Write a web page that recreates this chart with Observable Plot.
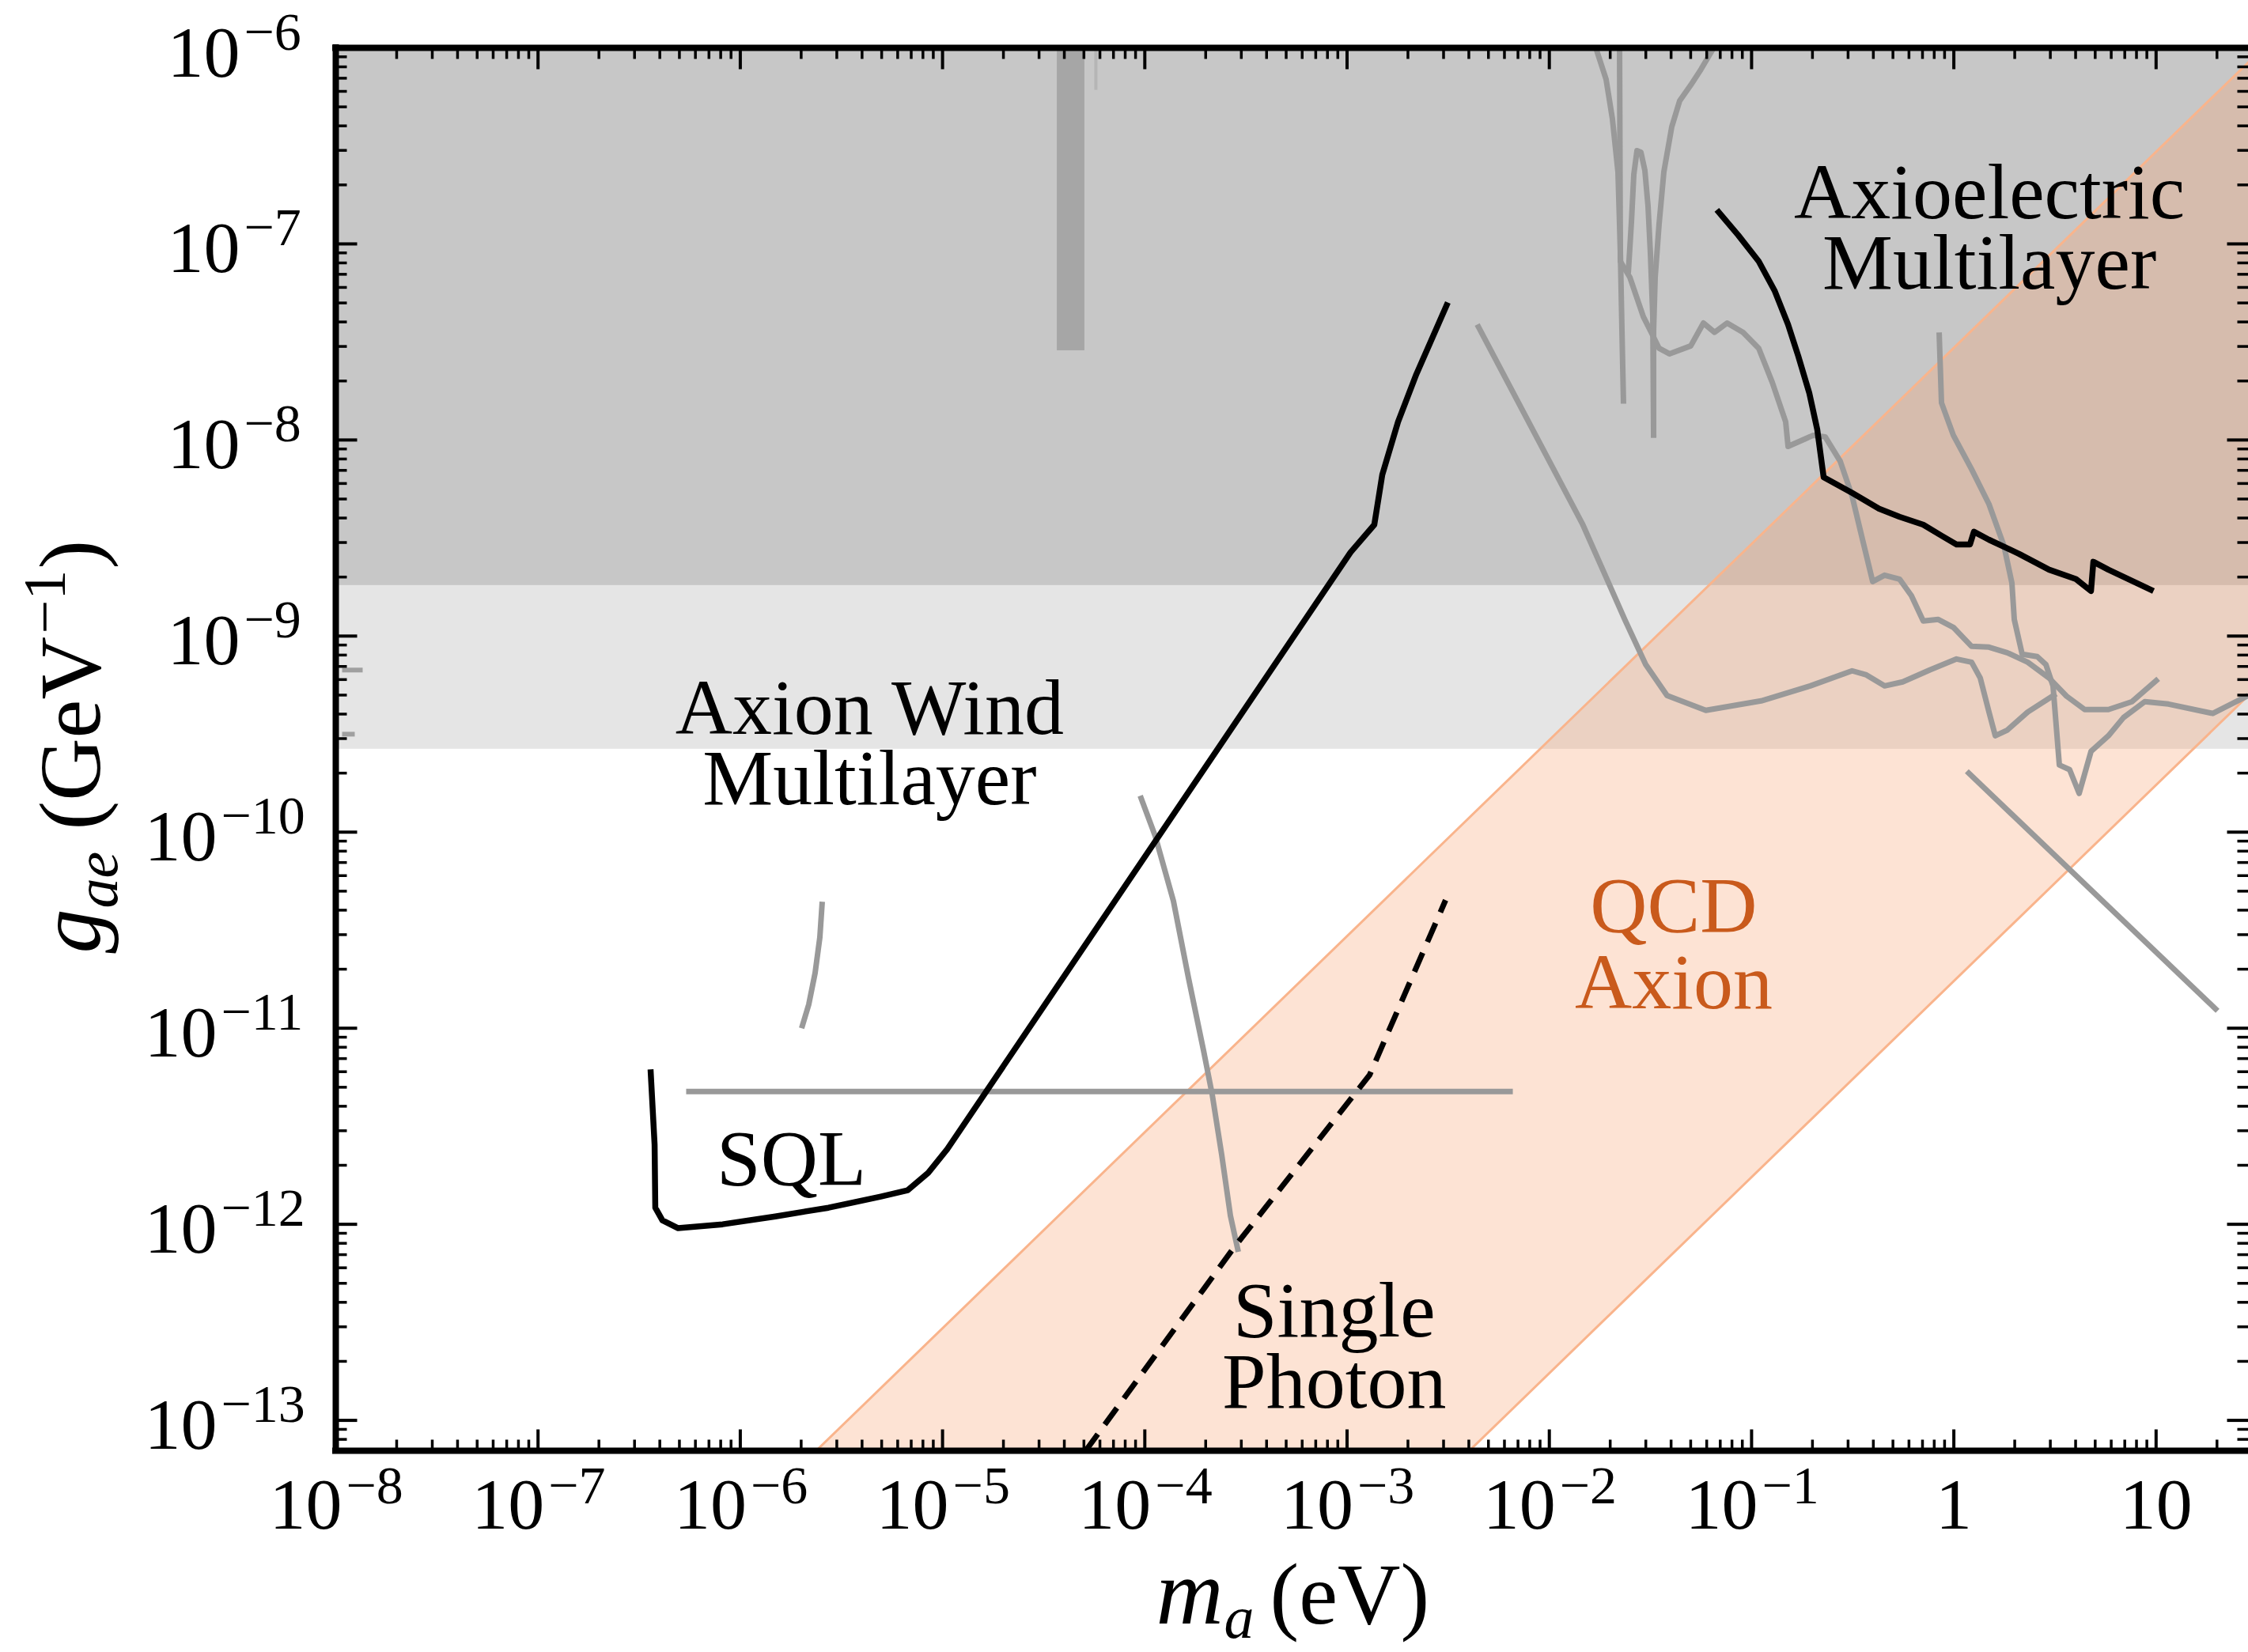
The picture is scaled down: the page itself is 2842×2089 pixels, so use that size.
<!DOCTYPE html>
<html><head><meta charset="utf-8">
<script src="https://cdn.jsdelivr.net/npm/d3@7"></script>
<script src="https://cdn.jsdelivr.net/npm/@observablehq/plot@0.6"></script>
<style>
html,body{margin:0;padding:0;background:#fff;}
#chart svg{display:block;}
</style></head><body><div id="chart"></div>
<script>
const W = 2842, H = 2089;
const mL = 424, mR = 0, mT = 60, mB = 255;
const xDomain = [1e-8, 28.6];
const yDomain = [7e-14, 1e-6];

// excluded / constraint bands (g_ae ranges)
const darkBand = [{lo: 1.81e-9, hi: 1e-6}];
const lightBand = [{lo: 2.65e-10, hi: 1.81e-9}];
const darkBar = [{m1: 3.69e-5, m2: 5.05e-5, lo: 2.855e-8, hi: 1e-6}];
const thinBar = [[5.73e-5, 1e-6], [5.73e-5, 6.11e-7]];

// QCD axion band edges (m, lower g, upper g)
const qcdBand = [
  {m: 1e-7, lo: 1.74e-18, hi: 2.95e-15},
  {m: 100, lo: 1.74e-9, hi: 2.95e-6}
];

// black projections
const axionWind = [[3.60e-7,6.17e-12],[3.77e-7,2.55e-12],[3.80e-7,1.215e-12],[4.12e-7,1.047e-12],[4.93e-7,9.55e-13],[8.18e-7,1.0e-12],[1.49e-6,1.097e-12],[2.73e-6,1.215e-12],[4.95e-6,1.384e-12],[6.72e-6,1.49e-12],[8.49e-6,1.829e-12],[1.055e-5,2.416e-12],[1.041e-3,2.675e-9],[1.364e-3,3.70e-9],[1.493e-3,6.65e-9],[1.787e-3,1.238e-8],[2.199e-3,2.16e-8],[3.15e-3,5.03e-8]];
const axioelectric = [[0.0673,1.491e-7],[0.0859,1.108e-7],[0.1085,8.15e-8],[0.1299,5.78e-8],[0.1515,3.88e-8],[0.1702,2.675e-8],[0.1931,1.729e-8],[0.2113,1.128e-8],[0.2272,6.46e-9],[0.3141,5.37e-9],[0.4266,4.46e-9],[0.539,4.06e-9],[0.706,3.70e-9],[0.869,3.25e-9],[1.031,2.935e-9],[1.202,2.935e-9],[1.257,3.405e-9],[1.492,3.10e-9],[2.10,2.627e-9],[2.958,2.18e-9],[4.017,1.952e-9],[4.766,1.697e-9],[4.896,2.393e-9],[5.81,2.18e-9],[9.71,1.697e-9]];
const singlePhoton = [[5.10e-5,7.0e-14],[2.75e-4,7.57e-13],[1.293e-3,5.78e-12],[3.07e-3,4.50e-11]];

// grey existing limits
const sqlLine = [[5.40e-7,4.76e-12],[6.60e-3,4.76e-12]];
const greyShort = [[2.01e-6,1.0e-11],[2.18e-6,1.32e-11],[2.344e-6,1.915e-11],[2.474e-6,2.91e-11],[2.542e-6,4.42e-11]];
const greyPhoton = [[9.49e-5,1.533e-10],[1.126e-4,9.55e-11],[1.385e-4,4.46e-11],[1.643e-4,1.811e-11],[1.951e-4,7.71e-12],[2.154e-4,4.59e-12],[2.40e-4,2.263e-12],[2.65e-4,1.107e-12],[2.90e-4,7.23e-13]];
const greyV = [[4.40e-3,3.88e-8],[0.01457,3.74e-9],[0.0237,1.204e-9],[0.02995,7.16e-10],[0.0382,4.98e-10],[0.0594,4.18e-10],[0.1115,4.67e-10],[0.1949,5.57e-10],[0.3141,6.65e-10],[0.3694,6.34e-10],[0.4544,5.57e-10],[0.559,5.84e-10],[0.7594,6.71e-10],[1.031,7.64e-10],[1.224,7.36e-10],[1.351,6.11e-10],[1.492,4.10e-10],[1.603,3.10e-10],[1.835,3.31e-10],[2.319,4.10e-10],[3.207,5.08e-10]];
const greyWiggle = [[0.02225,1e-6],[0.02245,8.15e-8],[0.0250,6.77e-8],[0.02915,4.26e-8],[0.0319,3.54e-8],[0.0349,2.935e-8],[0.03925,2.75e-8],[0.05004,3.02e-8],[0.0578,3.95e-8],[0.0656,3.54e-8],[0.0757,3.95e-8],[0.0907,3.54e-8],[0.1085,2.935e-8],[0.1265,1.97e-8],[0.1474,1.238e-8],[0.1515,9.28e-9],[0.2020,1.057e-8],[0.2312,1.038e-8],[0.2745,7.78e-9],[0.3141,5.17e-9],[0.3468,3.375e-9],[0.397,1.898e-9],[0.4544,2.044e-9],[0.539,1.952e-9],[0.617,1.606e-9],[0.706,1.193e-9],[0.838,1.215e-9],[0.9945,1.108e-9],[1.224,8.86e-10],[1.492,8.78e-10],[1.835,8.23e-10],[2.319,7.36e-10],[2.958,6.11e-10],[3.606,4.94e-10],[4.436,4.22e-10],[5.81,4.22e-10],[7.61,4.63e-10],[10.25,6.06e-10]];
const greyDrop = [[0.846,3.54e-8],[0.869,1.547e-8],[0.9945,1.057e-8],[1.224,7.09e-9],[1.492,4.71e-9],[1.770,2.88e-9],[1.937,1.863e-9],[1.990,1.215e-9],[2.177,8.08e-10],[2.584,7.86e-10],[2.853,7.16e-10],[3.093,5.57e-10],[3.207,3.50e-10],[3.324,2.20e-10],[3.737,2.083e-10],[4.165,1.576e-10],[4.766,2.58e-10],[5.81,3.10e-10],[6.90,3.84e-10],[8.79,4.63e-10],[11.52,4.50e-10],[19.07,4.03e-10],[28.6,4.98e-10]];
const greyDiag = [[1.159,2.044e-10],[20.13,1.227e-11]];
const greyTopA = [[0.01698,1e-6],[0.01909,6.90e-7],[0.02051,4.34e-7],[0.02185,2.328e-7],[0.02245,9.20e-8],[0.02286,3.635e-8],[0.02327,1.532e-8]];
const greyPeak = [[0.02457,7.09e-8],[0.02547,1.297e-7],[0.02617,2.263e-7],[0.02713,2.99e-7],[0.02837,2.935e-7],[0.02968,2.371e-7],[0.03076,1.562e-7],[0.03161,8.95e-8],[0.03248,4.26e-8],[0.03278,1.028e-8]];
const greyTopC = [[0.06497,1e-6],[0.05625,7.78e-7],[0.05004,6.46e-7],[0.0441,5.37e-7],[0.04030,3.95e-7],[0.03684,2.328e-7],[0.03489,1.262e-7],[0.03337,6.77e-8],[0.03278,3.635e-8],[0.03278,1.028e-8]];
const greyStubs = [[[1.075e-8,6.71e-10],[1.358e-8,6.71e-10]], [[1.075e-8,3.16e-10],[1.241e-8,3.16e-10]]];

// labels inside the plot (centre x, baseline of last line)
const annotations = [
  {text: "Axion Wind\nMultilayer", m: 4.36e-6, g: 1.384e-10, color: "black", lh: 0.89},
  {text: "Axioelectric\nMultilayer", m: 1.50, g: 5.94e-8, color: "black", lh: 0.89},
  {text: "SQL", m: 1.79e-6, g: 1.59e-12, color: "black", lh: 1},
  {text: "Single\nPhoton", m: 8.64e-4, g: 1.16e-13, color: "black", lh: 0.9},
  {text: "QCD\nAxion", m: 0.0412, g: 1.262e-11, color: "#c95a1c", lh: 0.97}
];

// ticks
const xMajor = [1e-8,1e-7,1e-6,1e-5,1e-4,1e-3,1e-2,1e-1,1,10];
const xExpLabels = [-8,-7,-6,-5,-4,-3,-2,-1];
const xPlainLabels = [{v: 1, t: "1"}, {v: 10, t: "10"}];
const yMajor = [1e-13,1e-12,1e-11,1e-10,1e-9,1e-8,1e-7,1e-6];
const yExpLabels = [-13,-12,-11,-10,-9,-8,-7,-6];

const xMinor = [];
for (let e = -8; e <= 1; e++) for (let k = 2; k <= 9; k++) { const v = k * Math.pow(10, e); if (v < xDomain[1]) xMinor.push(v); }
const yMinor = [];
for (let e = -14; e <= -7; e++) for (let k = 2; k <= 9; k++) { const v = k * Math.pow(10, e); if (v > yDomain[0] * 1.02 && v < yDomain[1]) yMinor.push(v); }

const xPxDec = (W - mL - mR) / Math.log10(xDomain[1] / xDomain[0]);
const yPxDec = (H - mT - mB) / Math.log10(yDomain[1] / yDomain[0]);
const fx = len => Math.pow(10, len / xPxDec);
const fy = len => Math.pow(10, len / yPxDec);
const MAJ = 27, MIN = 14;

const P = d => d;
const lineOpts = (stroke, sw, extra = {}) => ({x: d => d[0], y: d => d[1], stroke, strokeWidth: sw, strokeLinecap: "butt", strokeLinejoin: "round", clip: true, ...extra});
const GREY = "#999999";
const FONT = "Liberation Serif";

function tickMarks(vals, len, sw) {
  return [
    Plot.link(vals, {x1: P, x2: P, y1: () => yDomain[0], y2: () => yDomain[0] * fy(len), stroke: "black", strokeWidth: sw}),
    Plot.link(vals, {x1: P, x2: P, y1: () => yDomain[1], y2: () => yDomain[1] / fy(len), stroke: "black", strokeWidth: sw})
  ];
}
function yTickMarks(vals, len, sw) {
  return [
    Plot.link(vals, {y1: P, y2: P, x1: () => xDomain[0], x2: () => xDomain[0] * fx(len), stroke: "black", strokeWidth: sw}),
    Plot.link(vals, {y1: P, y2: P, x1: () => xDomain[1], x2: () => xDomain[1] / fx(len), stroke: "black", strokeWidth: sw})
  ];
}

const yOne = yExpLabels.filter(e => e > -10), yTwo = yExpLabels.filter(e => e <= -10);

const annotationMarks = annotations.map(a => Plot.text([a], {x: "m", y: "g", text: "text", fill: a.color, fontSize: 100, textAnchor: "middle", lineAnchor: "bottom", lineHeight: a.lh}));

const chart = Plot.plot({
  width: W, height: H,
  marginLeft: mL, marginRight: mR, marginTop: mT, marginBottom: mB,
  x: {type: "log", domain: xDomain, axis: null},
  y: {type: "log", domain: yDomain, axis: null},
  style: {fontFamily: FONT, background: "white", color: "black"},
  marks: [
    Plot.rect(darkBand, {x1: () => xDomain[0], x2: () => xDomain[1], y1: "lo", y2: "hi", fill: "#c7c7c7"}),
    Plot.rect(lightBand, {x1: () => xDomain[0], x2: () => xDomain[1], y1: "lo", y2: "hi", fill: "#e5e5e5"}),
    Plot.rect(darkBar, {x1: "m1", x2: "m2", y1: "lo", y2: "hi", fill: "#a6a6a6"}),
    Plot.line(thinBar, lineOpts("#b5b5b5", 4)),
    Plot.areaY(qcdBand, {x: "m", y1: "lo", y2: "hi", fill: "#f8a270", fillOpacity: 0.3, clip: true}),
    Plot.line(qcdBand, {x: "m", y: "hi", stroke: "#f9b48c", strokeWidth: 3, clip: true}),
    Plot.line(qcdBand, {x: "m", y: "lo", stroke: "#f9b48c", strokeWidth: 3, clip: true}),
    // grey limits
    Plot.line(sqlLine, lineOpts(GREY, 7)),
    Plot.line(greyShort, lineOpts(GREY, 7)),
    Plot.line(greyPhoton, lineOpts(GREY, 7)),
    Plot.line(greyV, lineOpts(GREY, 7)),
    Plot.line(greyWiggle, lineOpts(GREY, 7)),
    Plot.line(greyDrop, lineOpts(GREY, 7)),
    Plot.line(greyDiag, lineOpts(GREY, 7)),
    Plot.line(greyTopA, lineOpts(GREY, 7)),
    Plot.line(greyPeak, lineOpts(GREY, 7)),
    Plot.line(greyTopC, lineOpts(GREY, 7)),
    ...greyStubs.map(s => Plot.line(s, lineOpts("#a0a0a0", 6))),
    // black projections
    Plot.line(axionWind, lineOpts("black", 7.5)),
    Plot.line(axioelectric, lineOpts("black", 7.5)),
    Plot.line(singlePhoton, lineOpts("black", 7, {strokeDasharray: "26,15"})),
    // labels
    ...annotationMarks,
    // frame
    Plot.ruleY([yDomain[0], yDomain[1]], {stroke: "black", strokeWidth: 8, strokeLinecap: "square"}),
    Plot.ruleX([xDomain[0]], {stroke: "black", strokeWidth: 8, strokeLinecap: "square"}),
    // ticks
    ...tickMarks(xMajor, MAJ, 4), ...tickMarks(xMinor, MIN, 3.5),
    ...yTickMarks(yMajor, MAJ, 4), ...yTickMarks(yMinor, MIN, 3.5),
    // x tick labels
    Plot.text(xExpLabels, {x: e => Math.pow(10, e), frameAnchor: "bottom", text: () => "10", textAnchor: "end", lineAnchor: "bottom", dx: 8, dy: 98, fontSize: 92}),
    Plot.text(xExpLabels, {x: e => Math.pow(10, e), frameAnchor: "bottom", text: e => "\u2212" + (-e), textAnchor: "start", lineAnchor: "bottom", dx: 13, dy: 66, fontSize: 68}),
    Plot.text(xPlainLabels, {x: "v", frameAnchor: "bottom", text: "t", textAnchor: "middle", lineAnchor: "bottom", dy: 98, fontSize: 92}),
    // y tick labels
    Plot.text(yOne, {y: e => Math.pow(10, e), frameAnchor: "left", text: () => "10", textAnchor: "end", lineAnchor: "bottom", dx: -121, dy: 36, fontSize: 92}),
    Plot.text(yOne, {y: e => Math.pow(10, e), frameAnchor: "left", text: e => "\u2212" + (-e), textAnchor: "start", lineAnchor: "bottom", dx: -116, dy: 2, fontSize: 68}),
    Plot.text(yTwo, {y: e => Math.pow(10, e), frameAnchor: "left", text: () => "10", textAnchor: "end", lineAnchor: "bottom", dx: -150, dy: 36, fontSize: 92}),
    Plot.text(yTwo, {y: e => Math.pow(10, e), frameAnchor: "left", text: e => "\u2212" + (-e), textAnchor: "start", lineAnchor: "bottom", dx: -145, dy: 2, fontSize: 68}),
    // x title  m_a (eV)
    Plot.text(["m"], {frameAnchor: "bottom", text: d => d, fontStyle: "italic", fontSize: 118, textAnchor: "start", lineAnchor: "bottom", dx: -172, dy: 218}),
    Plot.text(["a"], {frameAnchor: "bottom", text: d => d, fontStyle: "italic", fontSize: 76, textAnchor: "start", lineAnchor: "bottom", dx: -86, dy: 236}),
    Plot.text(["(eV)"], {frameAnchor: "bottom", text: d => d, fontSize: 110, textAnchor: "start", lineAnchor: "bottom", dx: -28, dy: 218}),
    // y title  g_ae (GeV^-1)
    Plot.text(["g"], {frameAnchor: "left", text: d => d, fontStyle: "italic", fontSize: 112, rotate: -90, textAnchor: "start", lineAnchor: "bottom", dx: -299, dy: 258}),
    Plot.text(["ae"], {frameAnchor: "left", text: d => d, fontStyle: "italic", fontSize: 76, rotate: -90, textAnchor: "start", lineAnchor: "bottom", dx: -277, dy: 201}),
    Plot.text(["(GeV"], {frameAnchor: "left", text: d => d, fontSize: 110, rotate: -90, textAnchor: "start", lineAnchor: "bottom", dx: -299, dy: 102}),
    Plot.text(["\u22121"], {frameAnchor: "left", text: d => d, fontSize: 76, rotate: -90, textAnchor: "start", lineAnchor: "bottom", dx: -343, dy: -146}),
    Plot.text([")"], {frameAnchor: "left", text: d => d, fontSize: 110, rotate: -90, textAnchor: "start", lineAnchor: "bottom", dx: -299, dy: -228})
  ]
});
document.getElementById("chart").appendChild(chart);
</script></body></html>
